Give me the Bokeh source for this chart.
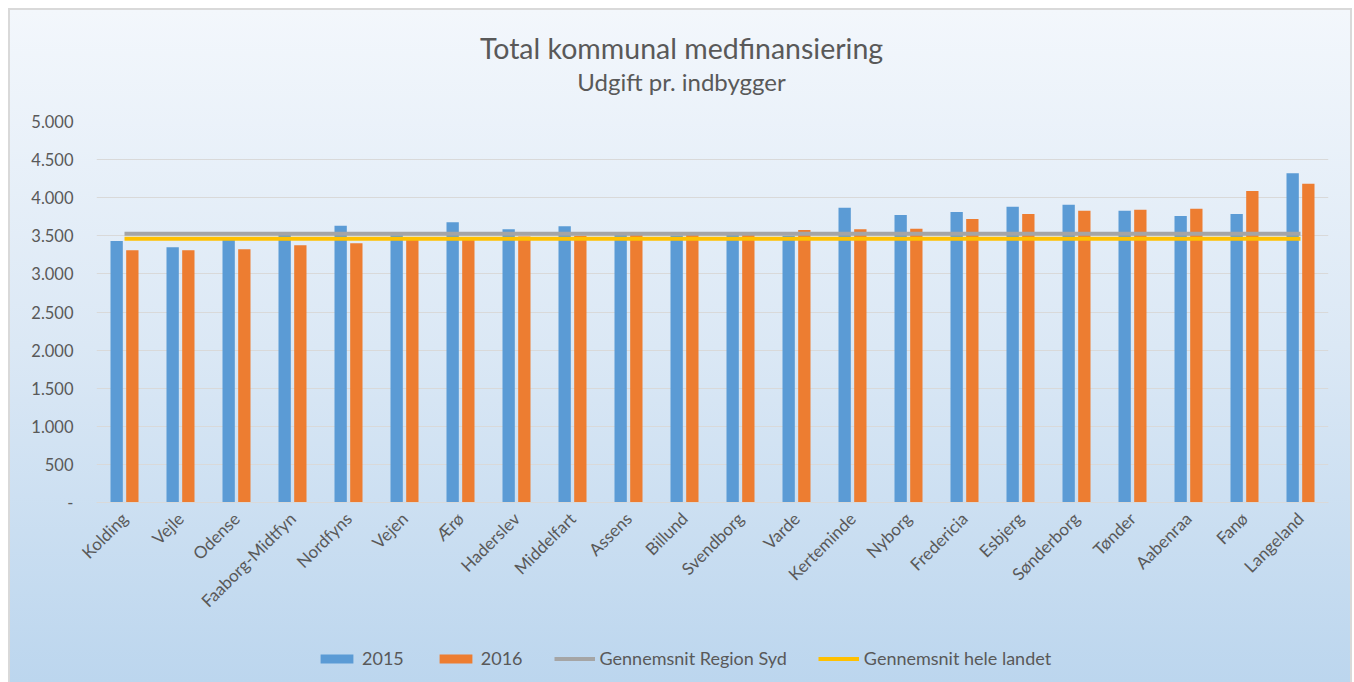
import math
from bokeh.plotting import figure
from bokeh.layouts import column
from bokeh.models import (FactorRange, Range1d, Legend, LegendItem, Label,
                          ColumnDataSource)
from bokeh.transform import dodge
from bokeh.embed import file_html
from bokeh.resources import INLINE

# ---- data ----
kommuner = ["Kolding", "Vejle", "Odense", "Faaborg-Midtfyn", "Nordfyns", "Vejen", "Ærø",
            "Haderslev", "Middelfart", "Assens", "Billund", "Svendborg", "Varde",
            "Kerteminde", "Nyborg", "Fredericia", "Esbjerg", "Sønderborg", "Tønder",
            "Aabenraa", "Fanø", "Langeland"]
udgift_2015 = [3432, 3349, 3470, 3510, 3633, 3506, 3677, 3585, 3625, 3510, 3505, 3510, 3500,
               3869, 3773, 3812, 3882, 3908, 3829, 3760, 3786, 4320]
udgift_2016 = [3310, 3310, 3323, 3375, 3401, 3470, 3480, 3490, 3500, 3515, 3520, 3530, 3576,
               3585, 3593, 3721, 3786, 3829, 3843, 3856, 4088, 4184]
gennemsnit_region_syd = 3528
gennemsnit_hele_landet = 3462
y_ticks = [0, 500, 1000, 1500, 2000, 2500, 3000, 3500, 4000, 4500, 5000]
y_tick_labels = ["-", "500", "1.000", "1.500", "2.000", "2.500", "3.000", "3.500",
                 "4.000", "4.500", "5.000"]
series_labels = ["2015", "2016", "Gennemsnit Region Syd", "Gennemsnit hele landet"]
title_text = "Total kommunal medfinansiering"
subtitle_text = "Udgift pr. indbygger"

FONT = "Lato"
TXT = "#595959"
C15, C16, CREG, CLAND = "#5B9BD5", "#ED7D31", "#A5A5A5", "#FFC000"
W = 1352
FRAME_L, FRAME_R = 96, 1328   # column layout aligns all frames to the main plot's frame


def blank(fig):
    fig.background_fill_color = None
    fig.border_fill_color = None
    fig.outline_line_color = None
    return fig


src = ColumnDataSource(data=dict(
    cat=kommuner, v2015=udgift_2015, v2016=udgift_2016,
    region=[gennemsnit_region_syd] * len(kommuner),
    land=[gennemsnit_hele_landet] * len(kommuner),
))

# ---- title strip ----
TOP_H = 110
pt = blank(figure(width=W, height=TOP_H, x_range=Range1d(FRAME_L, FRAME_R),
                  y_range=Range1d(0, TOP_H), x_axis_type=None, y_axis_type=None,
                  min_border=0, min_border_left=FRAME_L, min_border_right=W - FRAME_R,
                  output_backend="svg", toolbar_location=None))
pt.add_layout(Label(x=681, y=TOP_H - 47, text=title_text, text_align="center",
                    text_baseline="middle", text_font=FONT, text_font_size="28.5px",
                    text_color=TXT))
pt.add_layout(Label(x=681, y=TOP_H - 81, text=subtitle_text, text_align="center",
                    text_baseline="middle", text_font=FONT, text_font_size="24px",
                    text_color=TXT))

# ---- main chart ----
MAIN_H = 532
p = blank(figure(x_range=FactorRange(*kommuner), y_range=(0, 5000),
                 width=W, height=MAIN_H,
                 min_border_left=FRAME_L, min_border_right=W - FRAME_R,
                 min_border_top=11, min_border_bottom=140,
                 output_backend="svg", toolbar_location=None))

p.vbar(x=dodge("cat", -0.14, range=p.x_range), top="v2015", width=0.22, source=src,
       fill_color=C15, line_color=None)
p.vbar(x=dodge("cat", 0.14, range=p.x_range), top="v2016", width=0.22, source=src,
       fill_color=C16, line_color=None)
p.line(x="cat", y="region", source=src, line_color=CREG, line_width=4)
p.line(x="cat", y="land", source=src, line_color=CLAND, line_width=4)

p.yaxis.ticker = y_ticks
p.yaxis.major_label_overrides = dict(zip(y_ticks, y_tick_labels))
p.yaxis.axis_line_color = None
p.yaxis.major_tick_line_color = None
p.yaxis.minor_tick_line_color = None
p.yaxis.major_label_standoff = 17
p.yaxis.major_label_text_font = FONT
p.yaxis.major_label_text_font_size = "16.5px"
p.yaxis.major_label_text_color = TXT

p.xaxis.axis_line_color = "#d9d9d9"
p.xaxis.major_tick_line_color = None
p.xaxis.minor_tick_line_color = None
p.xaxis.major_label_orientation = math.pi / 4
p.xaxis.major_label_standoff = 7
p.xaxis.major_label_text_font = FONT
p.xaxis.major_label_text_font_size = "17px"
p.xaxis.major_label_text_color = TXT

p.xgrid.grid_line_color = None
p.ygrid.ticker = y_ticks
p.ygrid.grid_line_color = "#d9d9d9"

# ---- legend strip (same series, drawn out of view; only the legend shows) ----
LEG_H = 40
pl = blank(figure(width=W, height=LEG_H, x_range=FactorRange(*kommuner),
                  y_range=Range1d(20000, 30000), x_axis_type=None, y_axis_type=None,
                  min_border=0, min_border_left=FRAME_L, min_border_right=W - FRAME_R,
                  output_backend="svg", toolbar_location=None))
off = dodge("cat", 60, range=pl.x_range)
l1 = pl.vbar(x=off, top="v2015", width=0.22, source=src, fill_color=C15, line_color=None)
l2 = pl.vbar(x=off, top="v2016", width=0.22, source=src, fill_color=C16, line_color=None)
l3 = pl.line(x=off, y="region", source=src, line_color=CREG, line_width=4)
l4 = pl.line(x=off, y="land", source=src, line_color=CLAND, line_width=4)
legend = Legend(items=[LegendItem(label=t, renderers=[r])
                       for t, r in zip(series_labels, [l1, l2, l3, l4])],
                orientation="horizontal", location=(316 - FRAME_L, 13),
                glyph_width=41, glyph_height=11, label_standoff=5, spacing=31,
                background_fill_alpha=0, border_line_color=None, padding=0, margin=0,
                label_text_font=FONT, label_text_font_size="18px", label_text_color=TXT)
pl.add_layout(legend, "center")

layout = column(pt, p, pl, spacing=0)
layout.styles = {"background": (
    "linear-gradient(to bottom, #f3f7fc 0%, #dbe8f5 50%, #bcd6ee 100%) 10px 10px / calc(100% - 12px) calc(100% - 10px) no-repeat, "
    "linear-gradient(#d9d9d9, #d9d9d9) 8px 8px / calc(100% - 8px) calc(100% - 8px) no-repeat, "
    "#ffffff")}

open("out.html", "w").write(file_html(layout, INLINE))
